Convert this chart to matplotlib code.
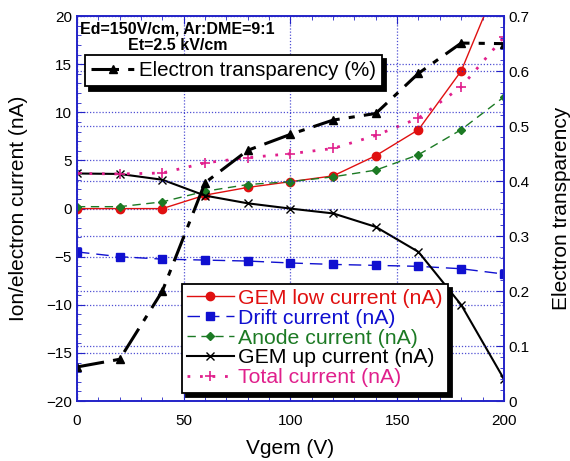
import numpy as np
import matplotlib
matplotlib.use("Agg")
import matplotlib.pyplot as plt
from matplotlib.ticker import MultipleLocator, FuncFormatter

plt.rcParams['font.family'] = ['Liberation Sans', 'DejaVu Sans']

# data
vgem = [0, 20, 40, 60, 80, 100, 120, 140, 160, 180, 200]
gem_low = [0.0, 0.0, 0.0, 1.4, 2.2, 2.8, 3.4, 5.5, 8.2, 14.3, 25.0]
drift = [-4.5, -5.0, -5.25, -5.35, -5.45, -5.65, -5.8, -5.9, -6.0, -6.25, -6.8]
anode = [0.2, 0.2, 0.7, 1.8, 2.5, 2.8, 3.3, 4.0, 5.6, 8.2, 11.6]
gem_up = [3.65, 3.6, 3.0, 1.35, 0.55, 0.0, -0.5, -1.9, -4.5, -10.0, -17.7]
total = [3.65, 3.6, 3.7, 4.75, 5.3, 5.7, 6.25, 7.6, 9.4, 12.65, 17.8]
transparency = [0.062, 0.076, 0.20, 0.397, 0.456, 0.485, 0.511, 0.523, 0.596, 0.651, 0.650]

BLUE = '#2323c8'
RED = '#e01010'
DBLUE = '#1010d0'
GREEN = '#1c7a24'
PINK = '#e0208c'

fig = plt.figure(figsize=(5.70, 4.61), dpi=100)
ax = fig.add_axes([0.135, 0.130, 0.749, 0.835])
ax2 = ax.twinx()

l1, = ax.plot(vgem, gem_low, '-', color=RED, lw=1, marker='o', ms=6,
              label='GEM low current (nA)')
l2, = ax.plot(vgem, drift, color=DBLUE, lw=1, dashes=(9, 5), marker='s', ms=6,
              label='Drift current (nA)')
l3, = ax.plot(vgem, anode, color=GREEN, lw=1, dashes=(6, 4), marker='D', ms=4,
              label='Anode current (nA)')
l4, = ax.plot(vgem, gem_up, '-', color='black', lw=1.5, marker='x', ms=6, mew=1,
              label='GEM up current (nA)')
l5, = ax.plot(vgem, total, color=PINK, lw=2, dashes=(1, 3.5), marker='+', ms=7, mew=1.2,
              label='Total current (nA)')
lt, = ax2.plot(vgem, transparency, color='black', lw=2.2, dashes=(9, 3, 2, 3),
               marker='^', ms=6, label='Electron transparency (%)')

ax.set_xlim(0, 200)
ax.set_ylim(-20, 20)
ax2.set_ylim(0, 0.7)

ax.xaxis.set_major_locator(MultipleLocator(50))
ax.xaxis.set_minor_locator(MultipleLocator(10))
ax.yaxis.set_major_locator(MultipleLocator(5))
ax.yaxis.set_minor_locator(MultipleLocator(1))
ax2.yaxis.set_major_locator(MultipleLocator(0.1))
ax2.yaxis.set_minor_locator(MultipleLocator(0.02))
ax2.yaxis.set_major_formatter(FuncFormatter(lambda v, p: '0' if abs(v) < 1e-9 else '%.1f' % v))

for a in (ax, ax2):
    for s in a.spines.values():
        s.set_color(BLUE)
        s.set_linewidth(1.2)
    a.tick_params(which='both', direction='in', color=BLUE, labelsize=11)
    a.tick_params(which='major', length=6)
    a.tick_params(which='minor', length=3)
ax.tick_params(which='both', top=True)
ax.tick_params(axis='x', pad=9)

ax.grid(True, which='major', color=BLUE, ls=(0, (1, 1.5)), lw=0.9, alpha=0.8)
ax2.grid(True, which='major', axis='y', color=BLUE, ls=(0, (1, 1.5)), lw=0.9, alpha=0.8)

ax.set_xlabel('Vgem (V)', fontsize=15, labelpad=8)
ax.set_ylabel('Ion/electron current (nA)', fontsize=15, labelpad=13)
ax2.set_ylabel('Electron transparency', fontsize=15, labelpad=16)

ax.text(0.008, 0.985, 'Ed=150V/cm, Ar:DME=9:1', transform=ax.transAxes,
        fontsize=11.5, fontweight='bold', va='top', ha='left')
ax.text(0.237, 0.942, 'Et=2.5 kV/cm', transform=ax.transAxes,
        fontsize=11.5, fontweight='bold', va='top', ha='center')

shadow = {'ox': 3, 'oy': -3, 'color': 'black', 'alpha': 1}
leg_top = ax2.legend(handles=[lt], loc='upper left', bbox_to_anchor=(0.019, 0.899),
                     borderaxespad=0, fontsize=14.8, frameon=True, fancybox=False,
                     edgecolor='black', framealpha=1, shadow=shadow, handlelength=2.1,
                     handletextpad=0.2, borderpad=0.3)
leg_top.get_frame().set_linewidth(1.3)
ax2.add_artist(leg_top)

leg = ax2.legend(handles=[l1, l2, l3, l4, l5], loc='lower left',
                 bbox_to_anchor=(0.245, 0.022), borderaxespad=0, fontsize=15.3,
                 frameon=True, fancybox=False, edgecolor='black', framealpha=1,
                 shadow=shadow, handlelength=2.2, handletextpad=0.2, borderpad=0.25,
                 labelspacing=0.04)
leg.get_frame().set_linewidth(1.3)
for txt, c in zip(leg.get_texts(), [RED, DBLUE, GREEN, 'black', PINK]):
    txt.set_color(c)
leg.set_zorder(10)

fig.savefig('out.png', dpi=100)
